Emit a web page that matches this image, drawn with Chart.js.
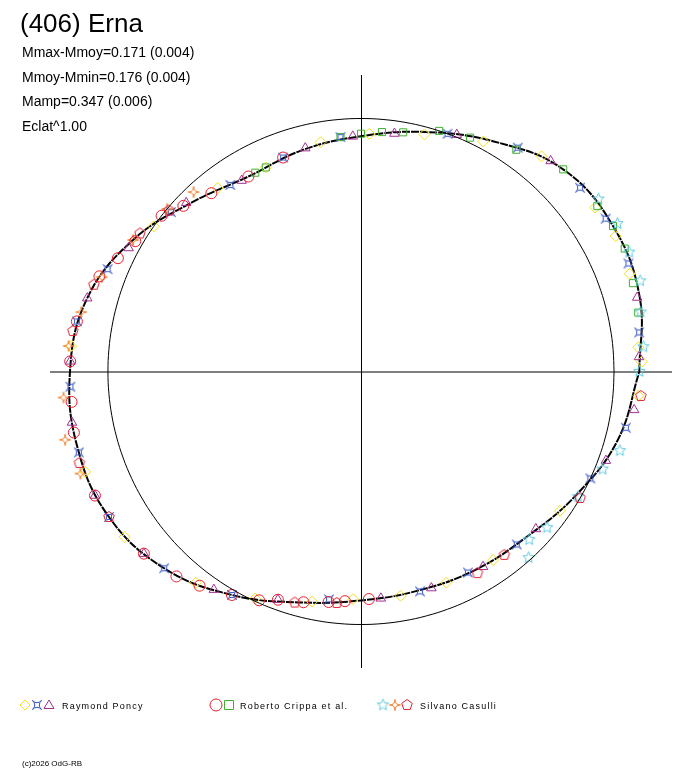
<!DOCTYPE html>
<html><head><meta charset="utf-8">
<script src="https://cdn.jsdelivr.net/npm/chart.js@4/dist/chart.umd.min.js"></script>
<style>html,body{margin:0;padding:0;background:#fff}#w{width:688px;height:768px}</style>
</head><body><div id="w"><canvas id="c"></canvas></div>
<script>
const curveAngles=[0,15,30,45,60,75,90,105,120,135,150,165,180,195,210,225,240,255,270,285,300,315,330,345];
const curveRadii=[1.10,1.14,1.15,1.13,1.05,0.98,0.93,0.905,0.89,0.945,1.04,1.12,1.15,1.16,1.15,1.10,1.02,0.945,0.905,0.895,0.905,0.925,0.98,1.05];
const poncyDiamond=[[5,1.10],[20,1.13],[28,1.14],[35,1.13],[50,1.11],[62,1.03],[75,0.97],[88,0.94],[100,0.92],[115,0.89],[128,0.92],[145,1.0],[175,1.15],[200,1.16],[215,1.14],[232,1.06],[245,0.99],[258,0.93],[268,0.90],[280,0.90],[292,0.90],[305,0.91],[325,0.96],[355,1.10],[2,1.11]];
const poncyBlue=[[8,1.11],[22,1.14],[32,1.14],[40,1.13],[55,1.08],[70,1.0],[95,0.93],[110,0.90],[125,0.90],[140,0.98],[158,1.08],[170,1.14],[183,1.15],[196,1.16],[210,1.15],[225,1.10],[240,1.02],[262,0.91],[285,0.90],[298,0.90],[312,0.92],[335,1.0],[348,1.07]];
const poncyTri=[[3,1.10],[15,1.13],[48,1.12],[68,1.01],[82,0.95],[92,0.93],[104,0.91],[122,0.89],[136,0.96],[152,1.04],[165,1.12],[178,1.15],[190,1.16],[205,1.16],[220,1.12],[236,1.04],[250,0.96],[275,0.90],[288,0.90],[302,0.91],[318,0.93],[340,1.03],[352,1.09]];
const crippaCircle=[[130,0.92],[137,0.96],[142,1.0],[150,1.03],[160,1.10],[170,1.14],[178,1.15],[186,1.15],[192,1.16],[205,1.16],[220,1.12],[228,1.09],[240,1.02],[250,0.96],[256,0.94],[262,0.92],[266,0.91],[272,0.90],[120,0.89],[110,0.90],[155,1.06],[246,0.99],[233,1.06]];
const crippaSquare=[[95,0.93],[85,0.95],[80,0.96],[72,1.0],[65,1.02],[55,1.07],[45,1.13],[35,1.14],[30,1.15],[25,1.15],[18,1.13],[12,1.12],[115,0.89],[118,0.89],[90,0.94]];
const casulliStar=[[5,1.12],[12,1.13],[18,1.16],[24,1.16],[30,1.17],[36,1.16],[343,1.07],[338,1.03],[330,0.99],[320,0.96],[315,0.94],[0,1.10],[312,0.99]];
const casulliOrange=[[133,0.97],[140,1.0],[150,1.04],[160,1.09],[168,1.13],[185,1.18],[193,1.2],[200,1.18],[175,1.16]];
const casulliPent=[[140,0.99],[148,1.03],[162,1.11],[172,1.15],[198,1.17],[210,1.15],[300,0.92],[308,0.92],[330,1.0],[355,1.11],[254,0.95],[264,0.92]];
const legendNames=["Raymond Poncy","Roberto Crippa et al.","Silvano Casulli"];
const infoLines=["Mmax-Mmoy=0.171 (0.004)","Mmoy-Mmin=0.176 (0.004)","Mamp=0.347 (0.006)","Eclat^1.00"];

function pc(a,r){const t=a*Math.PI/180;return {x:r*Math.cos(t),y:r*Math.sin(t)};}
function mk(draw,color,s){const c=document.createElement('canvas');c.width=s;c.height=s;const g=c.getContext('2d');g.strokeStyle=color;g.lineWidth=1;g.beginPath();draw(g,s/2,s/2,s/2-1.5);g.stroke();return c;}
const blueImg=mk((g,cx,cy,r)=>{g.moveTo(cx-r,cy-r);g.quadraticCurveTo(cx,cy,cx+r,cy-r);g.quadraticCurveTo(cx,cy,cx+r,cy+r);g.quadraticCurveTo(cx,cy,cx-r,cy+r);g.quadraticCurveTo(cx,cy,cx-r,cy-r);},'#3050c0',12);
const orangeImg=mk((g,cx,cy,r)=>{g.moveTo(cx,cy-r);g.quadraticCurveTo(cx,cy,cx+r,cy);g.quadraticCurveTo(cx,cy,cx,cy+r);g.quadraticCurveTo(cx,cy,cx-r,cy);g.quadraticCurveTo(cx,cy,cx,cy-r);},'#f07820',14);
const pentImg=mk((g,cx,cy,r)=>{for(let i=0;i<=5;i++){const t=-Math.PI/2+i*2*Math.PI/5;const x=cx+r*Math.cos(t),y=cy+r*Math.sin(t);i?g.lineTo(x,y):g.moveTo(x,y);}},'#e02030',14);
const starImg=mk((g,cx,cy,r)=>{for(let k=0;k<=10;k++){const t=-Math.PI/2+k*Math.PI/5,rr=k%2?r*0.45:r;const x=cx+rr*Math.cos(t),y=cy+rr*Math.sin(t);k?g.lineTo(x,y):g.moveTo(x,y);}},'#60c8e0',15);
function ds(arr,style,color,radius){return {type:'scatter',data:arr.map(p=>pc(p[0],p[1])),pointStyle:style,borderColor:color,backgroundColor:'rgba(0,0,0,0)',pointRadius:radius,pointBorderWidth:1,showLine:false};}
const curve=curveAngles.map((a,i)=>pc(a,curveRadii[i]));
const refc=[];for(let a=0;a<=360;a+=5)refc.push(pc(a,1));
const datasets=[
 {type:'line',data:refc,borderColor:'#000',borderWidth:1,pointRadius:0,tension:0.4,fill:false},
 ds(crippaCircle,'circle','#e82030',5.5),
 ds(casulliPent,pentImg,'#e02030',6),
 ds(casulliOrange,orangeImg,'#f07820',6),
 ds(casulliStar,starImg,'#60c8e0',6),
 ds(crippaSquare,'rect','#40b030',5),
 ds(poncyBlue,blueImg,'#3050c0',5),
 ds(poncyTri,'triangle','#a03090',5.5),
 ds(poncyDiamond,'rectRot','#f0e020',5.5),
 {type:'line',data:curve.concat([curve[0]]),borderColor:'#000',borderWidth:2,borderDash:[8,1],pointRadius:0,tension:0.4,fill:false}
];
const deco={id:'deco',beforeDatasetsDraw(ch){const g=ch.ctx,x=ch.scales.x,y=ch.scales.y;g.save();g.strokeStyle='#000';g.lineWidth=1;g.beginPath();g.moveTo(x.left,y.getPixelForValue(0)+0.5);g.lineTo(x.right,y.getPixelForValue(0)+0.5);g.moveTo(x.getPixelForValue(0)+0.5,y.top);g.lineTo(x.getPixelForValue(0)+0.5,y.bottom);g.stroke();g.restore();},
afterDraw(ch){const g=ch.ctx;g.save();g.fillStyle='#000';g.textBaseline='alphabetic';g.font='26px "Liberation Sans", Arial';g.fillText('(406) Erna',20,32);g.font='14px "Liberation Sans", Arial';infoLines.forEach((t,i)=>g.fillText(t,22,57+i*24.5));
g.font='9px "Liberation Sans", Arial';if(g.letterSpacing!==undefined)g.letterSpacing='1.2px';
const lx=[62,240,420];const yy=709;legendNames.forEach((n,i)=>g.fillText(n,lx[i],yy));
function dm(st,x0,col,r){g.strokeStyle=col;g.lineWidth=1;if(st instanceof HTMLCanvasElement){g.drawImage(st,x0-st.width/2,705-st.height/2);return;}g.beginPath();if(st==='rectRot'){g.moveTo(x0,705-r);g.lineTo(x0+r,705);g.lineTo(x0,705+r);g.lineTo(x0-r,705);g.closePath();}else if(st==='triangle'){g.moveTo(x0,705-r);g.lineTo(x0+r,705+r*0.7);g.lineTo(x0-r,705+r*0.7);g.closePath();}else if(st==='circle'){g.arc(x0,705,r,0,7);}else if(st==='rect'){g.rect(x0-r,705-r,2*r,2*r);}g.stroke();}
dm('rectRot',25,'#f0e020',5);dm(blueImg,37,'',0);dm('triangle',49,'#a03090',5);
dm('circle',216,'#e82030',6);dm('rect',229,'#40b030',4.5);
dm(starImg,383,'',0);dm(orangeImg,395,'',0);dm(pentImg,407,'',0);
g.letterSpacing='0px';g.font='8px "Liberation Sans", Arial';g.fillText('(c)2026 OdG-RB',22,766);g.restore();}};
new Chart(document.getElementById('c'),{type:'scatter',data:{datasets},plugins:[deco],
options:{responsive:true,maintainAspectRatio:false,animation:false,layout:{padding:{left:50,right:16,top:75,bottom:100}},
plugins:{legend:{display:false},tooltip:{enabled:false}},
scales:{x:{type:'linear',min:-1.229,max:1.229,display:false},y:{type:'linear',min:-1.172,max:1.172,display:false}}}});
</script></body></html>
